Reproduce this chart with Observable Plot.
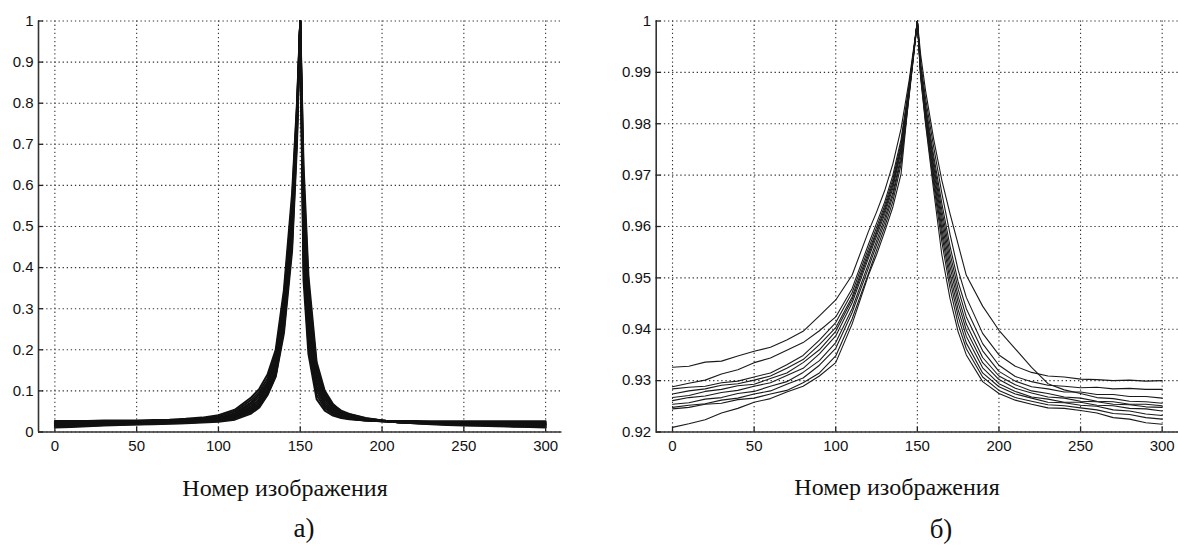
<!DOCTYPE html>
<html><head><meta charset="utf-8">
<script src="https://cdn.jsdelivr.net/npm/d3@7"></script>
<script src="https://cdn.jsdelivr.net/npm/@observablehq/plot@0.6"></script>
<style>
body{margin:0;background:#fff;}
#wrap{position:relative;width:1178px;height:545px;overflow:hidden;}
.panel{position:absolute;top:0;}
.lbl{position:absolute;font-family:"Liberation Serif","Times New Roman",serif;color:#111;white-space:nowrap;transform:translate(-50%,-50%);line-height:1;}
</style></head><body><div id="wrap"></div>
<script>
// x positions (image number) at which values were read
const xs = [0,10,20,30,40,50,60,70,80,90,100,110,120,125,130,135,140,145,148,150,152,155,160,165,170,175,180,190,200,210,220,230,240,250,260,270,280,290,300];
const xTicks = [0,50,100,150,200,250,300];
const yTicksA = [0,0.1,0.2,0.3,0.4,0.5,0.6,0.7,0.8,0.9,1];
const yTicksB = [0.92,0.93,0.94,0.95,0.96,0.97,0.98,0.99,1];
const xLabel = "Номер изображения";
const panelTags = ["а)", "б)"];

// panel а) curves
const curvesA = [
 [.027,.027,.027,.028,.028,.028,.029,.030,.032,.035,.041,.054,.084,.105,.140,.200,.345,.580,.800,1,.370,.190,.080,.052,.040,.034,.031,.028,.027,.027,.027,.026,.026,.026,.026,.026,.026,.026,.026],
 [.025,.025,.025,.026,.026,.027,.027,.028,.030,.033,.038,.050,.078,.098,.130,.190,.330,.560,.790,1,.400,.210,.090,.058,.044,.036,.032,.028,.026,.025,.025,.024,.024,.024,.024,.024,.024,.024,.024],
 [.023,.023,.023,.024,.024,.025,.026,.027,.029,.031,.035,.046,.072,.092,.122,.180,.315,.540,.780,1,.430,.230,.100,.063,.047,.038,.033,.028,.026,.025,.024,.023,.023,.023,.022,.022,.022,.022,.022],
 [.021,.021,.021,.022,.022,.023,.024,.025,.027,.030,.034,.044,.068,.086,.116,.170,.300,.520,.770,1,.460,.250,.110,.068,.050,.040,.035,.029,.026,.024,.023,.022,.022,.021,.021,.021,.021,.021,.020],
 [.020,.020,.020,.021,.021,.022,.023,.024,.026,.029,.032,.041,.063,.080,.110,.160,.290,.500,.760,1,.490,.270,.120,.074,.053,.043,.037,.030,.027,.024,.023,.022,.021,.021,.020,.020,.020,.020,.019],
 [.019,.019,.019,.020,.020,.021,.022,.023,.025,.028,.031,.039,.059,.075,.104,.152,.280,.490,.750,1,.520,.290,.130,.080,.057,.045,.039,.031,.027,.024,.022,.021,.020,.020,.019,.019,.019,.018,.018],
 [.017,.017,.018,.019,.019,.020,.021,.022,.024,.027,.030,.037,.055,.070,.098,.145,.270,.480,.740,1,.550,.310,.140,.086,.060,.048,.041,.032,.028,.024,.022,.021,.020,.019,.019,.018,.017,.017,.017],
 [.015,.016,.017,.018,.019,.020,.021,.022,.023,.026,.029,.035,.052,.066,.094,.140,.260,.470,.730,1,.580,.330,.150,.090,.063,.050,.043,.033,.028,.024,.022,.020,.019,.018,.017,.016,.016,.015,.015],
 [.013,.014,.015,.017,.018,.019,.020,.021,.022,.025,.027,.033,.049,.063,.092,.137,.250,.455,.720,1,.620,.360,.160,.095,.066,.052,.044,.034,.028,.024,.021,.020,.018,.017,.016,.015,.014,.014,.013],
 [.011,.012,.014,.016,.017,.018,.019,.020,.021,.023,.025,.030,.045,.060,.090,.135,.240,.440,.700,1,.650,.380,.170,.100,.068,.050,.042,.032,.028,.024,.021,.019,.017,.016,.015,.014,.013,.012,.011]
];

// panel б) curves
const curvesB = [
 [.9326,.9328,.9336,.9338,.9348,.9357,.9365,.9379,.9396,.9426,.9457,.9505,.9590,.9628,.9670,.9722,.9790,.9885,.9953,1,.9935,.9865,.9770,.9690,.9625,.9565,.9505,.9445,.9398,.9362,.9326,.9294,.9282,.9275,.9267,.9265,.9260,.9259,.9256],
 [.9288,.9295,.9301,.9313,.9321,.9335,.9344,.9359,.9374,.9397,.9424,.9479,.9565,.9606,.9648,.9700,.9769,.9876,.9949,1,.9920,.9850,.9755,.9665,.9585,.9515,.9462,.9392,.9350,.9328,.9316,.9309,.9307,.9303,.9302,.9300,.9301,.9299,.9300],
 [.9284,.9287,.9289,.9296,.9299,.9307,.9315,.9331,.9349,.9379,.9413,.9471,.9557,.9598,.9641,.9692,.9762,.9872,.9948,1,.9912,.9838,.9738,.9645,.9562,.9492,.9440,.9372,.9330,.9308,.9298,.9291,.9289,.9286,.9287,.9284,.9285,.9283,.9283],
 [.9274,.9280,.9284,.9291,.9294,.9301,.9309,.9324,.9341,.9370,.9403,.9463,.9550,.9591,.9635,.9686,.9756,.9870,.9946,1,.9908,.9830,.9728,.9632,.9548,.9478,.9424,.9358,.9318,.9299,.9288,.9284,.9278,.9278,.9273,.9273,.9269,.9269,.9266],
 [.9267,.9271,.9279,.9283,.9290,.9293,.9304,.9315,.9335,.9360,.9396,.9458,.9544,.9587,.9630,.9681,.9751,.9868,.9946,1,.9905,.9825,.9718,.9620,.9535,.9464,.9410,.9345,.9309,.9292,.9280,.9275,.9268,.9266,.9260,.9259,.9254,.9254,.9251],
 [.9261,.9267,.9270,.9277,.9281,.9289,.9296,.9310,.9324,.9352,.9387,.9451,.9538,.9581,.9624,.9675,.9746,.9865,.9944,1,.9902,.9820,.9710,.9608,.9522,.9452,.9398,.9335,.9302,.9285,.9276,.9268,.9266,.9260,.9259,.9254,.9253,.9249,.9248],
 [.9254,.9257,.9264,.9267,.9275,.9279,.9289,.9298,.9316,.9339,.9374,.9440,.9527,.9572,.9616,.9666,.9737,.9861,.9943,1,.9900,.9815,.9700,.9596,.9508,.9438,.9386,.9325,.9294,.9279,.9268,.9264,.9258,.9258,.9252,.9251,.9246,.9245,.9241],
 [.9248,.9252,.9255,.9262,.9266,.9274,.9280,.9293,.9305,.9330,.9363,.9432,.9519,.9564,.9608,.9659,.9730,.9858,.9941,1,.9897,.9810,.9692,.9584,.9495,.9425,.9373,.9315,.9288,.9274,.9266,.9258,.9257,.9252,.9250,.9243,.9241,.9235,.9232],
 [.9245,.9248,.9254,.9256,.9263,.9266,.9274,.9281,.9296,.9315,.9348,.9420,.9508,.9554,.9599,.9649,.9721,.9854,.9940,1,.9894,.9805,.9682,.9570,.9480,.9410,.9362,.9307,.9281,.9267,.9260,.9253,.9251,.9247,.9243,.9236,.9234,.9228,.9225],
 [.9209,.9216,.9224,.9237,.9246,.9258,.9265,.9278,.9289,.9309,.9335,.9410,.9505,.9545,.9590,.9638,.9702,.9860,.9945,1,.9890,.9800,.9670,.9545,.9460,.9395,.9350,.9298,.9275,.9262,.9254,.9247,.9246,.9242,.9237,.9228,.9225,.9218,.9215]
];

function toRows(curves){
  const rows = [];
  curves.forEach((c, i) => c.forEach((v, j) => rows.push({id: i, x: xs[j], y: v})));
  return rows;
}
const fmt = d => String(+(+d).toFixed(2));

function panel({curves, yTicks, width, marginLeft, marginRight, strokeWidth, stroke}){
  const yDomain = [yTicks[0], yTicks[yTicks.length-1]];
  return Plot.plot({
    width, height: 460,
    marginLeft, marginRight, marginTop: 20.5, marginBottom: 28.5,
    x: {domain: [-10, 310]},
    y: {domain: yDomain},
    style: {fontFamily: "'Liberation Sans', Arial, sans-serif", fontSize: "15px", color: "#111", background: "transparent", overflow: "visible"},
    marks: [
      Plot.gridX(xTicks, {stroke: "#333", strokeOpacity: 1, strokeWidth: 1.1, strokeDasharray: "1.3,2.8"}),
      Plot.gridY(yTicks, {stroke: "#333", strokeOpacity: 1, strokeWidth: 1.1, strokeDasharray: "1.3,2.8"}),
      Plot.line(toRows(curves), {x: "x", y: "y", z: "id", stroke, strokeWidth, strokeLinejoin: "round"}),
      Plot.ruleY([yDomain[0]], {stroke: "#333", strokeWidth: 1.6}),
      Plot.ruleX([-10], {stroke: "#333", strokeWidth: 1.6}),
      Plot.axisX({ticks: xTicks, tickSize: -5, tickPadding: 13, label: null, tickFormat: d => String(d), stroke: "#222", strokeWidth: 1.3}),
      Plot.axisY({ticks: yTicks, tickSize: -5, tickPadding: 10, label: null, tickFormat: fmt, stroke: "#222", strokeWidth: 1.3})
    ]
  });
}

const wrap = document.getElementById("wrap");
const pA = panel({curves: curvesA, yTicks: yTicksA, width: 590, marginLeft: 38, marginRight: 28.5, strokeWidth: 2, stroke: "#111"});
pA.classList.add("panel"); pA.style.left = "0px";
const pB = panel({curves: curvesB, yTicks: yTicksB, width: 588, marginLeft: 65.7, marginRight: 0, strokeWidth: 1.1, stroke: "#1a1a1a"});
pB.classList.add("panel"); pB.style.left = "590px";
wrap.appendChild(pA); wrap.appendChild(pB);

function addLabel(text, cx, cy, size){
  const d = document.createElement("div");
  d.className = "lbl"; d.textContent = text;
  d.style.left = cx + "px"; d.style.top = cy + "px"; d.style.fontSize = size + "px";
  wrap.appendChild(d);
}
addLabel(xLabel, 285, 488, 24);
addLabel(xLabel, 897, 487, 24);
addLabel(panelTags[0], 304, 528, 27);
addLabel(panelTags[1], 941, 529, 27);
</script></body></html>
